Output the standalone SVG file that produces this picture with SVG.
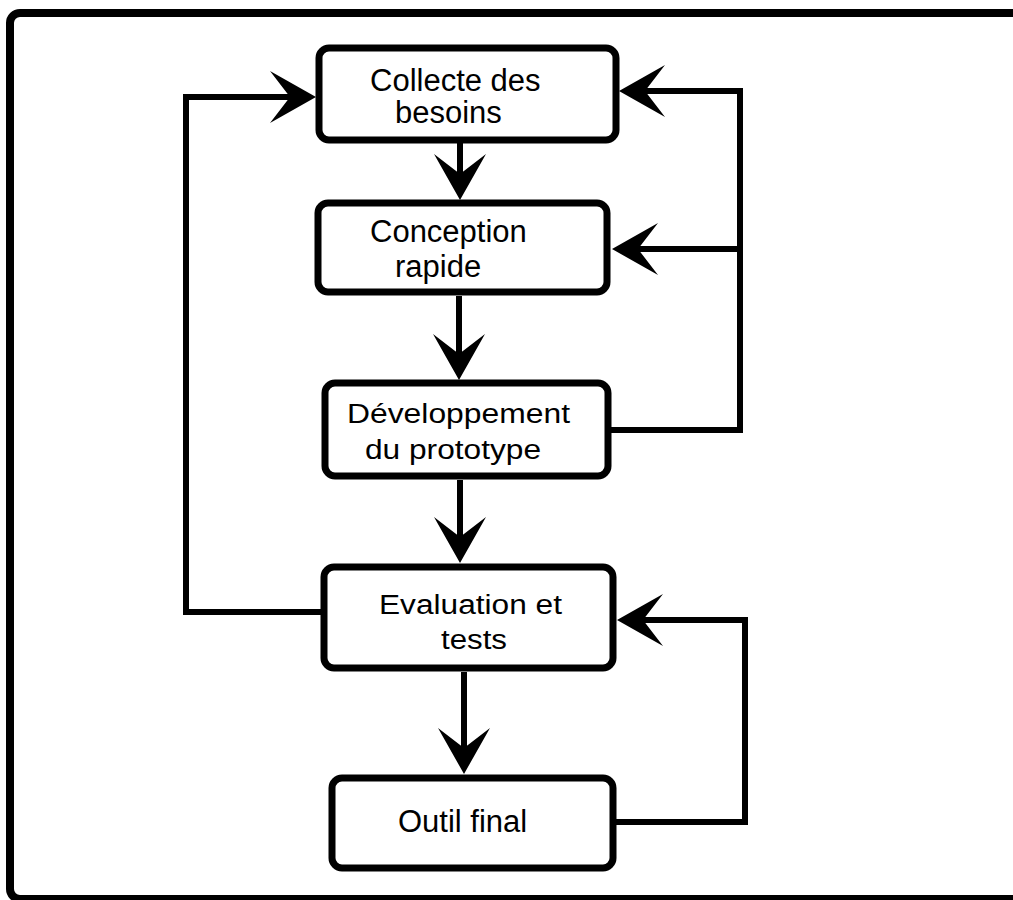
<svg xmlns="http://www.w3.org/2000/svg" width="1013" height="900" viewBox="0 0 1013 900">
<style>
.frame{fill:#fff;stroke:#000;stroke-width:8}
.box{fill:#fff;stroke:#000;stroke-width:7}
.con{fill:none;stroke:#000;stroke-width:6;stroke-linejoin:miter;marker-end:url(#arr)}
.t{font-family:"Liberation Sans",Arial,Helvetica,sans-serif;fill:#000}
.n{font-size:31px}
.w{font-size:27px}
</style>
<defs>
<marker id="arr" viewBox="0 0 46 52" markerUnits="userSpaceOnUse" markerWidth="46" markerHeight="52" refX="20" refY="26" orient="auto">
<polygon points="0,0 46,26 0,52 20,26" fill="#000"/>
</marker>
</defs>
<rect class="frame" x="10" y="13" width="1030" height="886" rx="10"/>
<g id="connectors">
<path class="con" d="M460,143 V174"/>
<path class="con" d="M459,296 V354"/>
<path class="con" d="M460,480 V537"/>
<path class="con" d="M464,672 V748"/>
<path class="con" d="M321,612 H186 V97 H290"/>
<path class="con" d="M611,430 H740 V91 H645"/>
<path class="con" d="M740,249 H638"/>
<path class="con" d="M616,822 H745 V620 H643"/>
</g>
<g id="collecte">
<rect class="box" x="319" y="48" width="297" height="92" rx="10"/>
<text class="t n" x="370" y="91">Collecte des</text>
<text class="t n" x="395" y="123">besoins</text>
</g>
<g id="conception">
<rect class="box" x="318" y="203" width="289" height="89" rx="10"/>
<text class="t n" x="370" y="242">Conception</text>
<text class="t n" x="395" y="277">rapide</text>
</g>
<g id="developpement">
<rect class="box" x="325" y="383" width="283" height="93" rx="10"/>
<text class="t w" x="347" y="423" textLength="223" lengthAdjust="spacingAndGlyphs">Développement</text>
<text class="t w" x="365" y="459" textLength="176" lengthAdjust="spacingAndGlyphs">du prototype</text>
</g>
<g id="evaluation">
<rect class="box" x="324" y="567" width="289" height="101" rx="10"/>
<text class="t w" x="379" y="614" textLength="183" lengthAdjust="spacingAndGlyphs">Evaluation et</text>
<text class="t w" x="441" y="649" textLength="66" lengthAdjust="spacingAndGlyphs">tests</text>
</g>
<g id="outil">
<rect class="box" x="332" y="778" width="281" height="90" rx="10"/>
<text class="t n" x="398" y="832">Outil final</text>
</g>
</svg>
